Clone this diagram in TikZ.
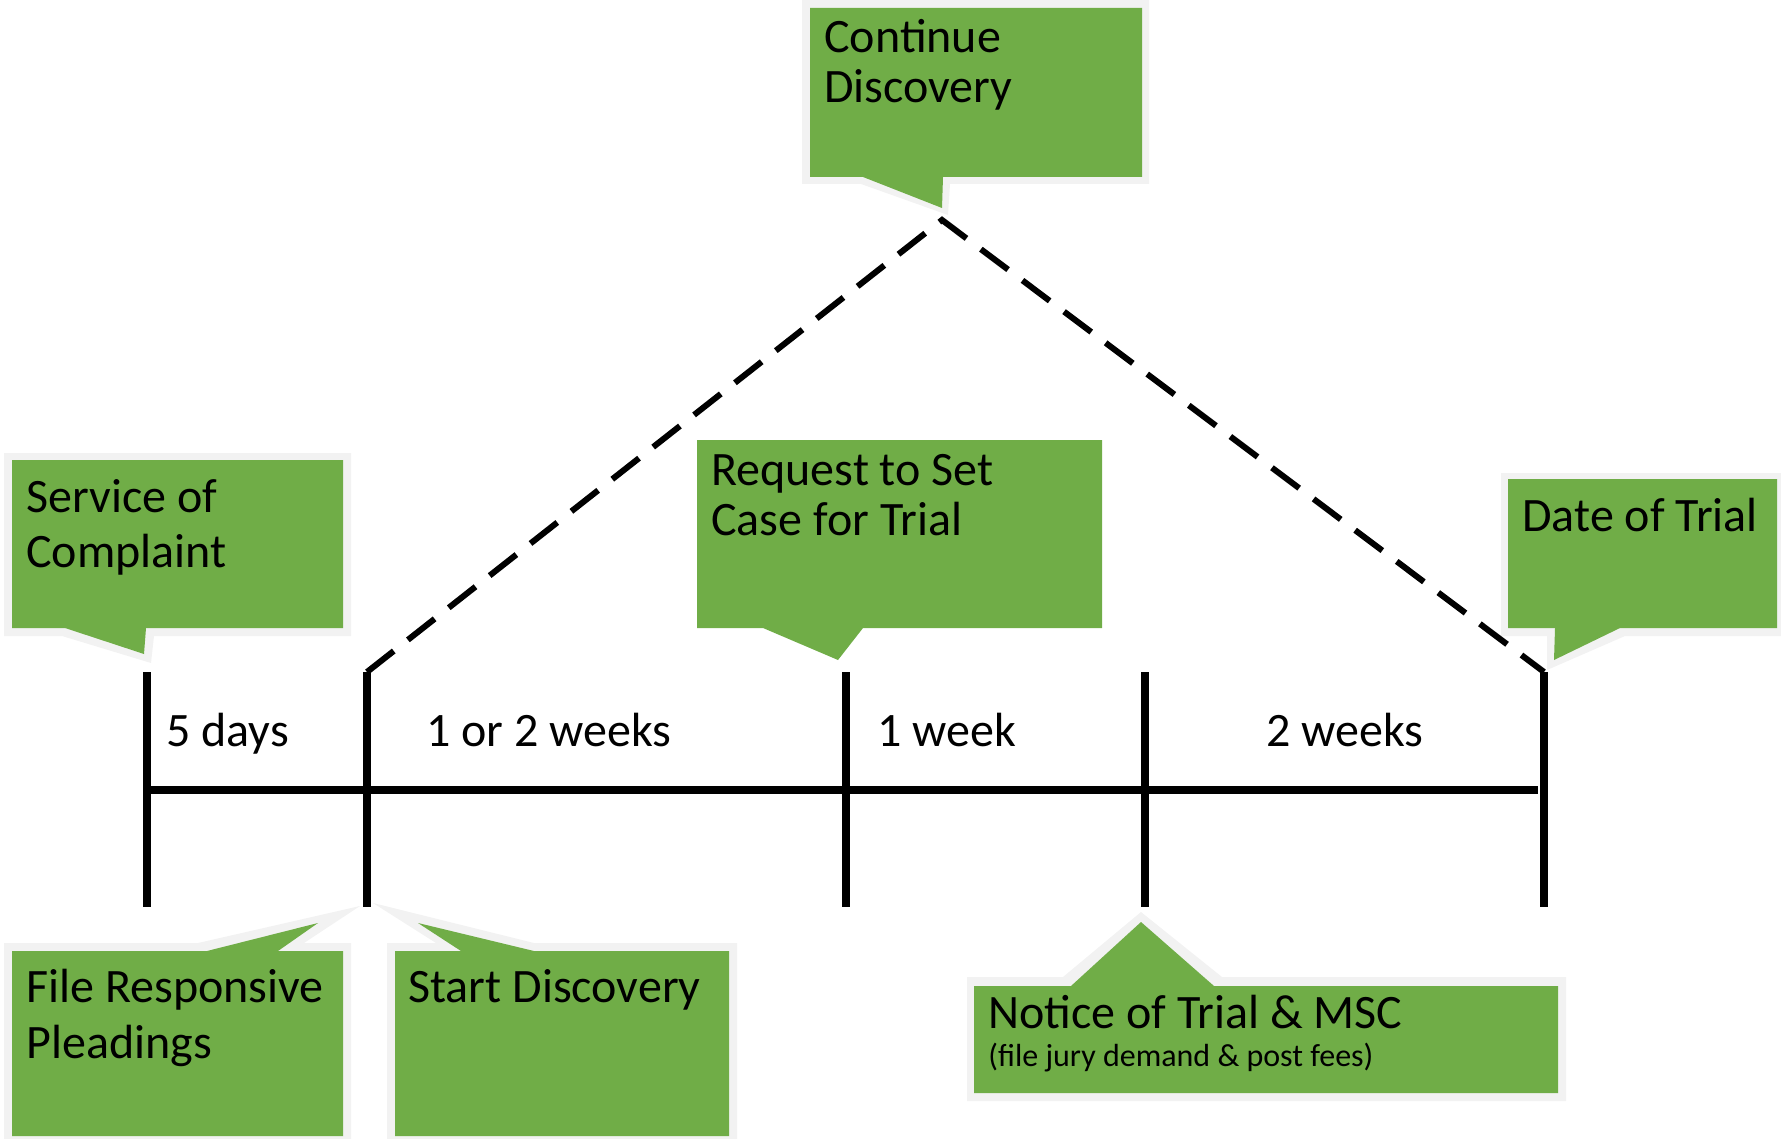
\documentclass[tikz,border=0pt]{standalone}
\usepackage{fontspec}
\setmainfont{Carlito}
\definecolor{calloutGreen}{HTML}{70AD47}
\definecolor{haloGray}{HTML}{F2F2F2}
\begin{document}
\begin{tikzpicture}[x=0.5pt,y=-0.5pt,
  lbl/.style={anchor=base west,inner sep=0pt,font=\fontsize{24}{28}\selectfont},
  smalllbl/.style={anchor=base west,inner sep=0pt,font=\fontsize{16}{19}\selectfont},
  halo/.style={fill=haloGray},
  bubble/.style={fill=calloutGreen},
  tickline/.style={line width=4pt},
  axisline/.style={line width=4pt},
  dashline/.style={line width=3pt,dash pattern=on 17pt off 9pt,line join=miter}]
\useasboundingbox (0,0) rectangle (1781,1139);

% ---------- callouts (halo + green body) ----------
% Service of Complaint
\fill[halo] (4,453) -- (351,453) -- (351,636) -- (154,636) -- (151,663) -- (62,636) -- (4,636) -- cycle;
\fill[bubble] (12,460) -- (343,460) -- (343,628) -- (146,628) -- (144,654) -- (65,628) -- (12,628) -- cycle;
% Continue Discovery
\fill[halo] (802,-10) -- (1149,-10) -- (1149,184) -- (950,184) -- (948,215) -- (861,184) -- (802,184) -- cycle;
\fill[bubble] (810,8) -- (1142,8) -- (1142,177) -- (943,177) -- (942,208) -- (863,177) -- (810,177) -- cycle;
% Request to Set Case for Trial
\fill[bubble] (697,440) -- (1102,440) -- (1102,628) -- (863,628) -- (838,660) -- (763,628) -- (697,628) -- cycle;
% Date of Trial
\fill[halo] (1501,473) -- (1790,473) -- (1790,636) -- (1625,636) -- (1547,670) -- (1547,636) -- (1501,636) -- cycle;
\fill[bubble] (1508,479) -- (1777,479) -- (1777,628) -- (1620,628) -- (1554,660) -- (1555,628) -- (1508,628) -- cycle;
% File Responsive Pleadings
\fill[halo] (4,943) -- (198,943) -- (360,906) -- (304,943) -- (351,943) -- (351,1150) -- (4,1150) -- cycle;
\fill[bubble] (12,951) -- (207,951) -- (318,923) -- (278,951) -- (343,951) -- (343,1136) -- (12,1136) -- cycle;
% Start Discovery
\fill[halo] (387,943) -- (436,943) -- (373,903) -- (534,943) -- (737,943) -- (737,1150) -- (387,1150) -- cycle;
\fill[bubble] (395,951) -- (461,951) -- (418,923) -- (534,951) -- (729,951) -- (729,1136) -- (395,1136) -- cycle;
% Notice of Trial & MSC
\fill[halo] (967,977) -- (1063,977) -- (1141,912) -- (1222,977) -- (1566,977) -- (1566,1101) -- (967,1101) -- cycle;
\fill[bubble] (974,986) -- (1071,986) -- (1141,922) -- (1214,986) -- (1558,986) -- (1558,1093) -- (974,1093) -- cycle;

% ---------- callout texts ----------
\node[lbl] (svc1) at (26,512) {Service of};
\node[lbl] (svc2) at (26,567) {Complaint};
\node[lbl] (cd1) at (824,53) {Continue};
\node[lbl] (cd2) at (824,103) {Discovery};
\node[lbl] (rq1) at (711,485) {Request to Set};
\node[lbl] (rq2) at (711,535) {Case for Trial};
\node[lbl] (dot) at (1522,531) {Date of Trial};
\node[lbl] (frp1) at (26,1002) {File Responsive};
\node[lbl] (frp2) at (26,1058) {Pleadings};
\node[lbl] (sd) at (408,1002) {Start Discovery};
\node[lbl] (nt1) at (988,1028) {Notice of Trial \& MSC};
\node[smalllbl] (nt2) at (988,1066) {(file jury demand \& post fees)};

% ---------- timeline ----------
\coordinate (t1top) at (147,672); \coordinate (t1bot) at (147,907);
\coordinate (t2top) at (367,672); \coordinate (t2bot) at (367,907);
\coordinate (t3top) at (846,672); \coordinate (t3bot) at (846,907);
\coordinate (t4top) at (1145,672); \coordinate (t4bot) at (1145,907);
\coordinate (t5top) at (1544,672); \coordinate (t5bot) at (1544,907);
\coordinate (axL) at (147,790); \coordinate (axR) at (1538,790);
\coordinate (apex) at (942,220);

\draw[axisline] (axL) -- (axR);
\foreach \t in {t1,t2,t3,t4,t5} \draw[tickline] (\t top) -- (\t bot);
\draw[dashline] (t2top) -- (apex) -- (t5top);

% ---------- interval labels ----------
\node[lbl] (i1) at (166,746) {5 days};
\node[lbl] (i2) at (426,746) {1 or 2 weeks};
\node[lbl] (i3) at (877,746) {1 week};
\node[lbl] (i4) at (1266,746) {2 weeks};
\end{tikzpicture}
\end{document}
